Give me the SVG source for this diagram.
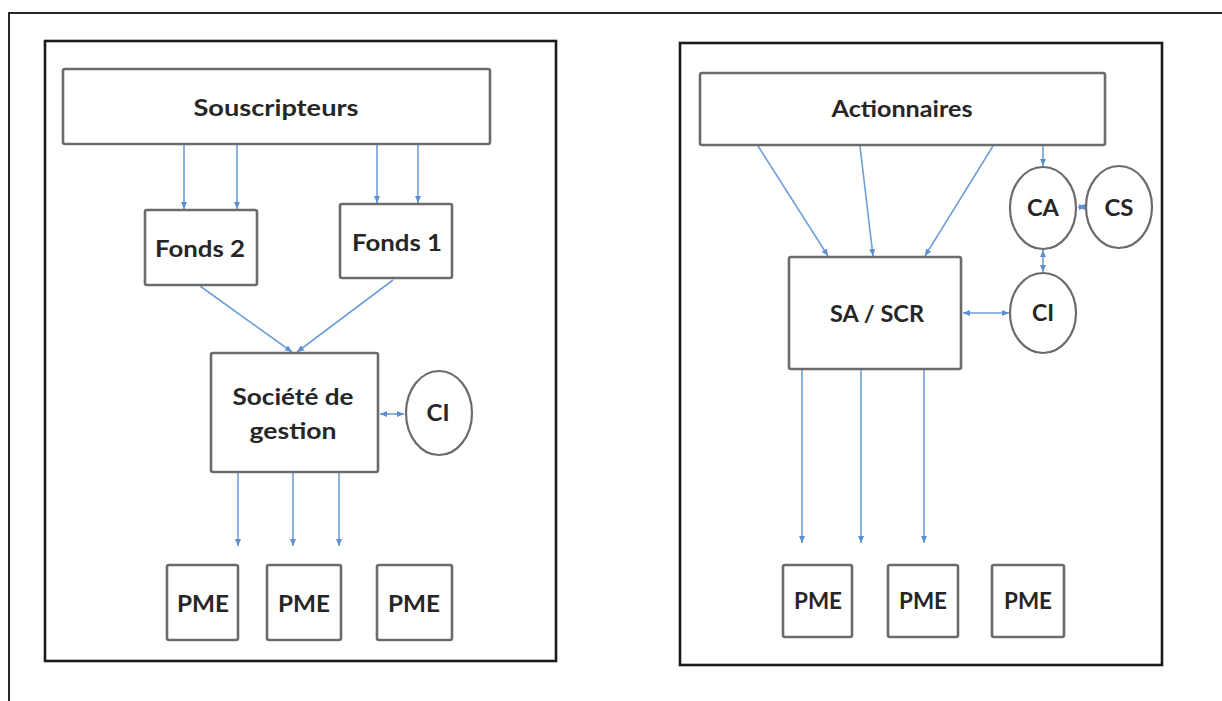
<svg xmlns="http://www.w3.org/2000/svg" width="1222" height="701" viewBox="0 0 1222 701">
<style>
.frame{fill:none;stroke:#111;stroke-width:1.8}
.panel{fill:#fff;stroke:#1a1a1a;stroke-width:2.6}
.box{fill:#fff;stroke:#6b6b6b;stroke-width:2.6}
.oval{fill:#fff;stroke:#6b6b6b;stroke-width:2.2}
.t{font-family:Lato,"Liberation Sans",sans-serif;font-weight:bold;font-size:22.5px;fill:#262626;text-anchor:middle}
.c{fill:none;stroke:#6f9fd8;stroke-width:1.6}
.a{marker-end:url(#ah)}
.d{marker-start:url(#ahs);marker-end:url(#ah)}
</style>
<defs>
<marker id="ah" markerUnits="userSpaceOnUse" markerWidth="8" markerHeight="8" viewBox="0 0 8 8" refX="7" refY="4" orient="auto">
<path d="M0,1 L7,4 L0,7 Z" fill="#5a8fd0"/>
</marker>
<marker id="ahs" markerUnits="userSpaceOnUse" markerWidth="8" markerHeight="8" viewBox="0 0 8 8" refX="1" refY="4" orient="auto">
<path d="M8,1 L1,4 L8,7 Z" fill="#5a8fd0"/>
</marker>
</defs>
<rect width="1222" height="701" fill="#fff"/>
<rect class="frame" x="9" y="13" width="1260" height="760"/>
<g id="panel-left"><rect class="panel" x="45" y="41" width="511" height="620"/></g>
<g id="panel-right"><rect class="panel" x="680" y="43" width="482" height="622"/></g>

<g id="connectors">
<line class="c a" x1="184" y1="145" x2="184" y2="209"/>
<line class="c a" x1="237" y1="145" x2="237" y2="209"/>
<line class="c a" x1="377" y1="145" x2="377" y2="203"/>
<line class="c a" x1="418" y1="145" x2="418" y2="203"/>
<line class="c a" x1="200" y1="286" x2="292" y2="352"/>
<line class="c a" x1="393" y1="280" x2="297" y2="352"/>
<line class="c d" x1="380" y1="414" x2="404" y2="414"/>
<line class="c a" x1="238" y1="473" x2="238" y2="546"/>
<line class="c a" x1="293" y1="473" x2="293" y2="546"/>
<line class="c a" x1="339" y1="473" x2="339" y2="546"/>

<line class="c a" x1="758" y1="146" x2="828" y2="256"/>
<line class="c a" x1="860" y1="146" x2="873" y2="256"/>
<line class="c a" x1="993" y1="146" x2="925" y2="256"/>
<line class="c a" x1="1043" y1="146" x2="1043" y2="166"/>
<line class="c d" x1="1078" y1="207" x2="1086" y2="207"/>
<line class="c d" x1="1043" y1="250" x2="1043" y2="272"/>
<line class="c d" x1="963" y1="313" x2="1009" y2="313"/>
<line class="c a" x1="802" y1="370" x2="802" y2="543"/>
<line class="c a" x1="861" y1="370" x2="861" y2="543"/>
<line class="c a" x1="924" y1="370" x2="924" y2="543"/>
</g>

<g id="souscripteurs"><rect class="box" x="63" y="69" width="427" height="75" rx="2"/><text class="t" x="276" y="116" textLength="165" lengthAdjust="spacingAndGlyphs">Souscripteurs</text></g>
<g id="fonds2"><rect class="box" x="145" y="210" width="112" height="75" rx="2"/><text class="t" x="200" y="257" textLength="90" lengthAdjust="spacingAndGlyphs">Fonds 2</text></g>
<g id="fonds1"><rect class="box" x="340" y="204" width="112" height="74" rx="2"/><text class="t" x="397" y="251" textLength="90" lengthAdjust="spacingAndGlyphs">Fonds 1</text></g>
<g id="societe-gestion"><rect class="box" x="211" y="353" width="167" height="119" rx="2"/><text class="t" x="293" y="405" textLength="121" lengthAdjust="spacingAndGlyphs">Société de</text><text class="t" x="293" y="439" textLength="87" lengthAdjust="spacingAndGlyphs">gestion</text></g>
<g id="ci-left"><ellipse class="oval" cx="439" cy="413" rx="33" ry="42"/><text class="t" x="438" y="421" textLength="23" lengthAdjust="spacingAndGlyphs">CI</text></g>
<g id="pme-l1"><rect class="box" x="167" y="565" width="71" height="75" rx="2"/><text class="t" x="203" y="612" textLength="52" lengthAdjust="spacingAndGlyphs">PME</text></g>
<g id="pme-l2"><rect class="box" x="267" y="565" width="74" height="75" rx="2"/><text class="t" x="304" y="612" textLength="52" lengthAdjust="spacingAndGlyphs">PME</text></g>
<g id="pme-l3"><rect class="box" x="377" y="565" width="75" height="75" rx="2"/><text class="t" x="414" y="612" textLength="52" lengthAdjust="spacingAndGlyphs">PME</text></g>

<g id="actionnaires"><rect class="box" x="700" y="73" width="405" height="72" rx="2"/><text class="t" x="902" y="117" textLength="141" lengthAdjust="spacingAndGlyphs">Actionnaires</text></g>
<g id="ca"><ellipse class="oval" cx="1043" cy="208" rx="33" ry="41"/><text class="t" x="1043" y="216" textLength="32" lengthAdjust="spacingAndGlyphs">CA</text></g>
<g id="cs"><ellipse class="oval" cx="1119" cy="207" rx="33" ry="41"/><text class="t" x="1119" y="216" textLength="29" lengthAdjust="spacingAndGlyphs">CS</text></g>
<g id="sa-scr"><rect class="box" x="789" y="257" width="172" height="112" rx="2"/><text class="t" x="877" y="322" textLength="94" lengthAdjust="spacingAndGlyphs">SA / SCR</text></g>
<g id="ci-right"><ellipse class="oval" cx="1043" cy="313" rx="33" ry="40"/><text class="t" x="1043" y="321" textLength="22" lengthAdjust="spacingAndGlyphs">CI</text></g>
<g id="pme-r1"><rect class="box" x="783" y="565" width="69" height="72" rx="2"/><text class="t" x="818" y="609" textLength="48" lengthAdjust="spacingAndGlyphs">PME</text></g>
<g id="pme-r2"><rect class="box" x="888" y="565" width="70" height="72" rx="2"/><text class="t" x="923" y="609" textLength="48" lengthAdjust="spacingAndGlyphs">PME</text></g>
<g id="pme-r3"><rect class="box" x="992" y="565" width="72" height="72" rx="2"/><text class="t" x="1028" y="609" textLength="48" lengthAdjust="spacingAndGlyphs">PME</text></g>
</svg>
